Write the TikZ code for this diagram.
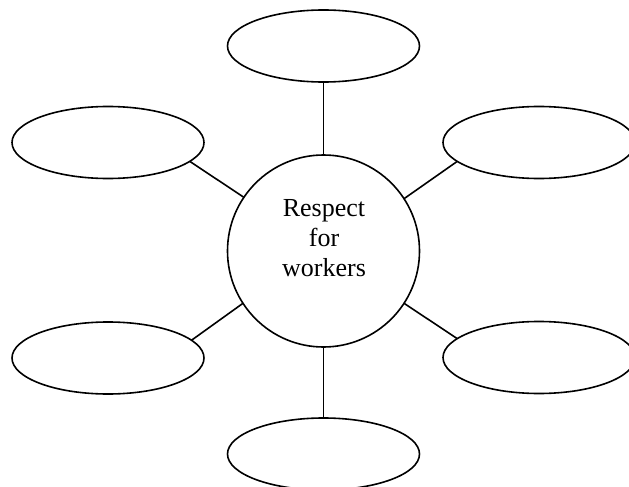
\documentclass[tikz,border=0pt]{standalone}
\usepackage{fontspec}
\setmainfont{Liberation Serif}
\usetikzlibrary{shapes.geometric}
\begin{document}
\begin{tikzpicture}[x=1pt,y=-1pt,
  lw/.style={line width=1.6pt},
  hub/.style={circle,draw,lw,inner sep=0pt,outer sep=0pt,minimum size=192pt},
  leaf/.style={ellipse,draw,lw,inner sep=0pt,outer sep=0pt,minimum width=192pt,minimum height=72pt},
  link/.style={draw,lw}]
\useasboundingbox (0,0) rectangle (629,487);
\node[hub] (c) at (323.5,251) {};
\node[align=center,inner sep=0pt,font=\fontsize{26}{30}\selectfont] (t) at (324,238) {Respect\\for\\workers};
\node[leaf] (top) at (323.5,46) {};
\node[leaf] (bot) at (323.5,454) {};
\node[leaf] (tl) at (108,142.5) {};
\node[leaf] (tr) at (539,142.5) {};
\node[leaf] (bl) at (108,358) {};
\node[leaf] (br) at (539,357.5) {};
\path[link] (top.south) -- (c.north);
\path[link] (c.south) -- (bot.north);
\path[link] (tl.-13) -- (c.146.5);
\path[link] (tr.193.5) -- (c.33.5);
\path[link] (bl.12.5) -- (c.213);
\path[link] (br.167) -- (c.-33);
\end{tikzpicture}
\end{document}
